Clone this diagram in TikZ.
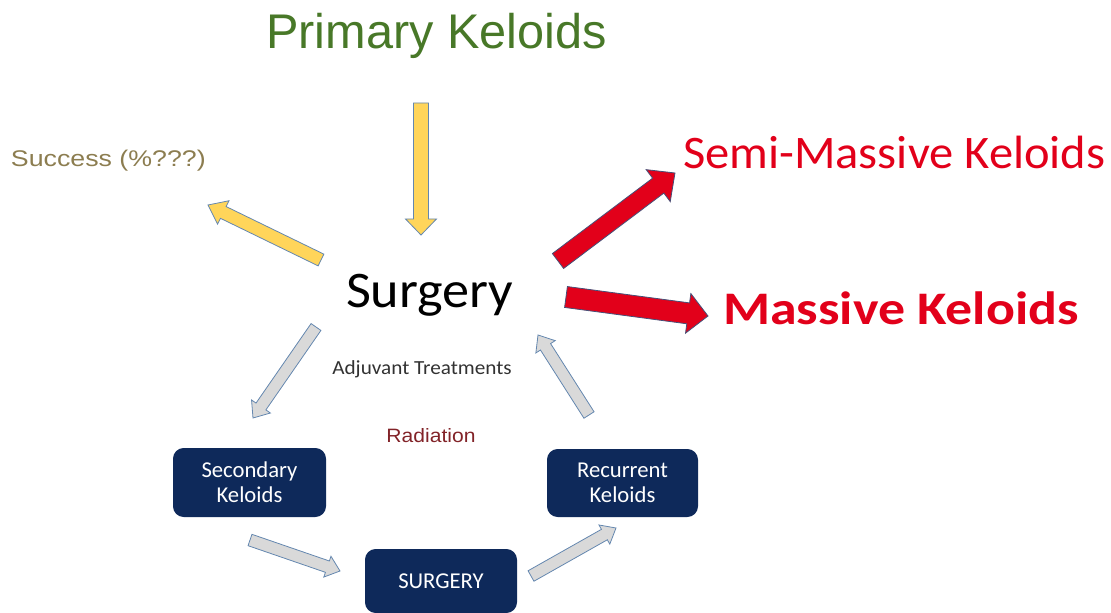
\documentclass[tikz,border=0pt]{standalone}
\usepackage{fontspec}
\setmainfont{Liberation Sans}
\newfontfamily\calibri{Carlito}
\usetikzlibrary{calc}
\definecolor{navy}{RGB}{14,41,90}
\definecolor{pkgreen}{RGB}{72,120,40}
\definecolor{succ}{RGB}{140,125,80}
\definecolor{kred}{RGB}{226,0,26}
\definecolor{radred}{RGB}{130,35,40}
\definecolor{yfill}{RGB}{255,213,90}
\definecolor{rfill}{RGB}{226,0,26}
\definecolor{gfill}{RGB}{217,217,217}
\definecolor{aline}{RGB}{100,135,175}
\definecolor{rline}{RGB}{70,80,120}
\definecolor{adj}{RGB}{50,50,50}
\newcommand\blockarrow[6]{%
  \path (#3) coordinate (ba-t) ($(#3)!#6!(#2)$) coordinate (ba-h);
  \draw[#1] ($(#2)!#4!90:(#3)$) -- ($(ba-h)!#4!90:(ba-t)$) -- ($(ba-h)!#5!90:(ba-t)$)
    -- (ba-t) -- ($(ba-h)!#5!-90:(ba-t)$) -- ($(ba-h)!#4!-90:(ba-t)$)
    -- ($(#2)!#4!-90:(#3)$) -- cycle;}
\tikzset{
  txt/.style={inner sep=0pt, outer sep=0pt},
  navybox/.style={fill=navy, rounded corners=8pt, inner sep=0pt, text=white,
    align=center, font=\calibri\fontsize{17}{19}\selectfont},
  yarrow/.style={fill=yfill, draw=aline, line width=0.6pt, line join=miter},
  rarrow/.style={fill=rfill, draw=rline, line width=0.6pt, line join=miter},
  garrow/.style={fill=gfill, draw=aline, line width=0.6pt, line join=miter},
}
\begin{document}
\begin{tikzpicture}[x=0.75pt, y=-0.75pt]
\useasboundingbox (0,0) rectangle (1111,613);
% texts
\node[txt, anchor=base west, text=pkgreen, font=\fontsize{36.5}{40}\selectfont] (primary) at (266,49) {Primary Keloids};
\node[txt, anchor=base west, text=succ, font=\fontsize{17}{20}\selectfont] (success) at (11,167) {\scalebox{1.18}[1]{Success (\%???)}};
\node[txt, anchor=base west, text=black, font=\calibri\fontsize{38.5}{44}\selectfont] (surgery) at (346,307) {\scalebox{1.057}[1]{Surgery}};
\node[txt, anchor=base west, text=kred, font=\calibri\fontsize{35}{40}\selectfont] (semi) at (683,169) {\scalebox{1.04}[1]{Semi-Massive Keloids}};
\node[txt, anchor=base west, text=kred, font=\calibri\bfseries\fontsize{35}{40}\selectfont] (massive) at (723,325) {\scalebox{1.155}[1]{Massive Keloids}};
\node[txt, anchor=base, text=adj, font=\calibri\fontsize{15}{18}\selectfont] (adjuvant) at (422,374) {\scalebox{1.06}[1]{Adjuvant Treatments}};
\node[txt, anchor=base, text=radred, font=\fontsize{14.5}{17}\selectfont] (radiation) at (431,442) {\scalebox{1.09}[1]{Radiation}};
% boxes
\node[navybox, minimum width=153*0.75pt, minimum height=69*0.75pt] (secondary) at (249.5,482.5) {Secondary\\Keloids};
\node[navybox, minimum width=151*0.75pt, minimum height=68*0.75pt] (recurrent) at (622.5,483) {Recurrent\\Keloids};
\node[navybox, minimum width=152*0.75pt, minimum height=64*0.75pt] (surgbox) at (441,581) {SURGERY};
% arrow end points
\coordinate (a1s) at (421,103); \coordinate (a1t) at (421,235);
\coordinate (a2s) at (321,260); \coordinate (a2t) at (208,205);
\coordinate (a3s) at (558,261); \coordinate (a3t) at (675,173);
\coordinate (a4s) at (566,297); \coordinate (a4t) at (708,316);
\coordinate (a5s) at (316,327); \coordinate (a5t) at (253,418);
\coordinate (a6s) at (589,415); \coordinate (a6t) at (538,335);
\coordinate (a7s) at (250,540); \coordinate (a7t) at (340,571);
\coordinate (a8s) at (531,576); \coordinate (a8t) at (616,528);
% arrows
\blockarrow{yarrow}{a1s}{a1t}{5.6pt}{11.6pt}{12pt}
\blockarrow{yarrow}{a2s}{a2t}{4.9pt}{9.75pt}{12.75pt}
\blockarrow{rarrow}{a3s}{a3t}{7pt}{15pt}{15.75pt}
\blockarrow{rarrow}{a4s}{a4t}{7.9pt}{15pt}{15pt}
\blockarrow{garrow}{a5s}{a5t}{4.5pt}{8.6pt}{10.5pt}
\blockarrow{garrow}{a6s}{a6t}{4.5pt}{8.6pt}{10.5pt}
\blockarrow{garrow}{a7s}{a7t}{4.5pt}{8.25pt}{10pt}
\blockarrow{garrow}{a8s}{a8t}{4.5pt}{8.25pt}{10pt}
\end{tikzpicture}
\end{document}
